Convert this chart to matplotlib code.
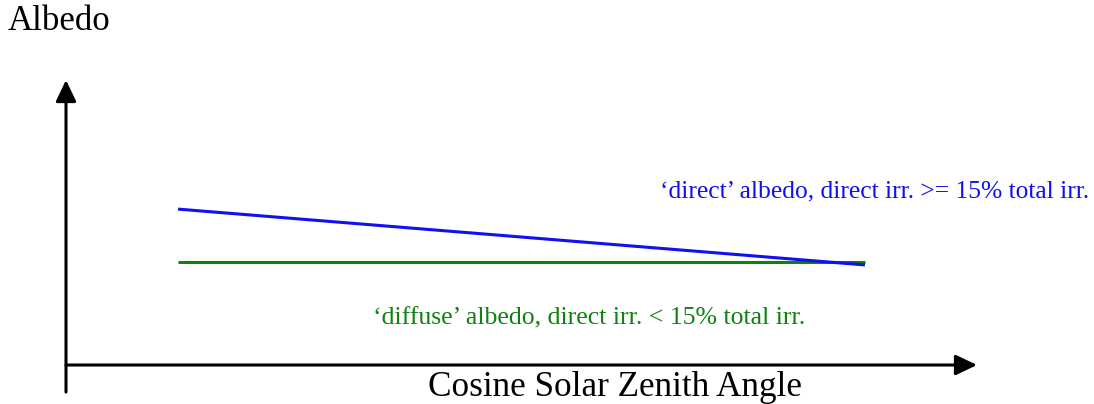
import matplotlib
matplotlib.use("Agg")
import matplotlib.pyplot as plt

# schematic values (cosine of solar zenith angle vs albedo, arbitrary units)
cos_sza = [0.123, 0.877]
albedo_direct = [0.547, 0.351]
albedo_diffuse = [0.361, 0.361]

W, H = 1094, 404
fig = plt.figure(figsize=(W / 100, H / 100), dpi=100)
plt.rcParams["font.family"] = ["Liberation Serif", "DejaVu Serif"]

# axes box: origin at pixel (66, 365), top at y=80, right at x=977
ax = fig.add_axes([66 / W, (H - 365) / H, (977 - 66) / W, (365 - 80) / H])
ax.set_xlim(0, 1)
ax.set_ylim(0, 1)
ax.axis("off")

arrow = dict(arrowstyle="-|>,head_length=1.3,head_width=0.62", mutation_scale=10,
             lw=2.2, color="black", shrinkA=0, shrinkB=0)
ax.annotate("", xy=(0, 1), xytext=(0, -0.095), arrowprops=arrow, annotation_clip=False)
ax.annotate("", xy=(1, 0), xytext=(0, 0), arrowprops=arrow, annotation_clip=False)

ax.plot(cos_sza, albedo_diffuse, color="#108010", lw=2.2, solid_capstyle="butt")
ax.plot(cos_sza, albedo_direct, color="#1010f0", lw=2.2, solid_capstyle="butt")

fig.text(8 / W, 1 - 22 / H, "Albedo", fontsize=25, ha="left", va="center")
fig.text(615 / W, 1 - 388 / H, "Cosine Solar Zenith Angle", fontsize=25.3,
         ha="center", va="center")
fig.text(660 / W, 1 - 191 / H, "\u2018direct\u2019 albedo, direct irr. >= 15% total irr.",
         fontsize=18.4, color="#1010f0", ha="left", va="center")
fig.text(373 / W, 1 - 318 / H, "\u2018diffuse\u2019 albedo, direct irr. < 15% total irr.",
         fontsize=18.5, color="#108010", ha="left", va="center")

fig.savefig("out.png", dpi=100)
